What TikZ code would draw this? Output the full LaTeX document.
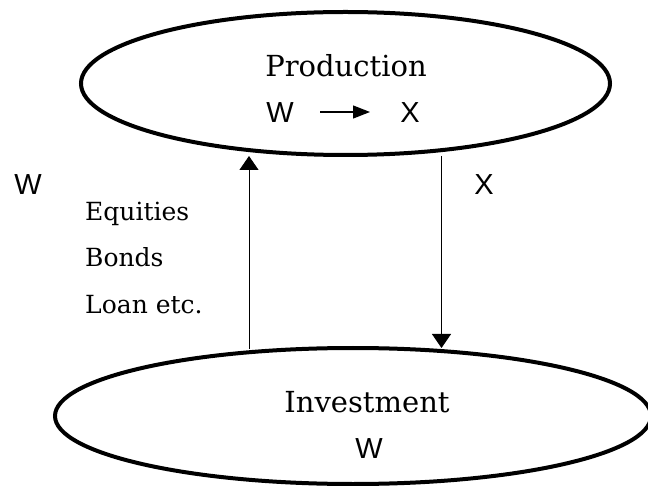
\documentclass[tikz,border=0pt]{standalone}
\usepackage{fontspec}
\newfontfamily\sansf{Liberation Sans}
\newfontfamily\seriff{DejaVu Serif}
\usetikzlibrary{shapes.geometric,arrows.meta}
\begin{document}
\begin{tikzpicture}[x=1pt,y=-1pt,
  oval/.style={draw,ellipse,line width=4pt,inner sep=0pt},
  serifbig/.style={font=\seriff\fontsize{29}{34}\selectfont,anchor=base,inner sep=0pt},
  serifmid/.style={font=\seriff\fontsize{25}{30}\selectfont,anchor=base west,inner sep=0pt},
  sanslbl/.style={font=\sansf\fontsize{29}{34}\selectfont,anchor=base,inner sep=0pt},
  flow/.style={line width=1pt,-{Triangle[width=19pt,length=14pt]}},
  innerarrow/.style={line width=1.3pt,-{Triangle[width=13pt,length=17pt]}}]
\clip (0,0) rectangle (648,486);
\useasboundingbox (0,0) rectangle (648,486);
% ellipses
\node[oval,minimum width=529pt,minimum height=143pt] (prod) at (345.5,83.5) {};
\node[oval,minimum width=596pt,minimum height=136pt] (inv) at (353,416) {};
% texts in ellipses
\node[serifbig] (ptitle) at (346,77) {Production};
\node[sanslbl] (pw) at (280,123) {W};
\node[sanslbl] (px) at (410,123) {X};
\coordinate (pwa) at (320,112);
\coordinate (pxa) at (370,112);
\draw[innerarrow] (pwa) -- (pxa);
\node[serifbig] (ititle) at (367,412) {Investment};
\node[sanslbl] (iw) at (369,458) {W};
% side labels
\node[sanslbl] (lw) at (28,195) {W};
\node[sanslbl] (rx) at (484,195) {X};
\node[serifmid] (eq) at (85,221) {Equities};
\node[serifmid] (bo) at (85,267) {Bonds};
\node[serifmid] (lo) at (85,314) {Loan etc.};
% connectors
\coordinate (upS) at (249,349);
\coordinate (upE) at (249,156);
\coordinate (dnS) at (441.5,156);
\coordinate (dnE) at (441.5,348);
\draw[flow] (upS) -- (upE);
\draw[flow] (dnS) -- (dnE);
\end{tikzpicture}
\end{document}
